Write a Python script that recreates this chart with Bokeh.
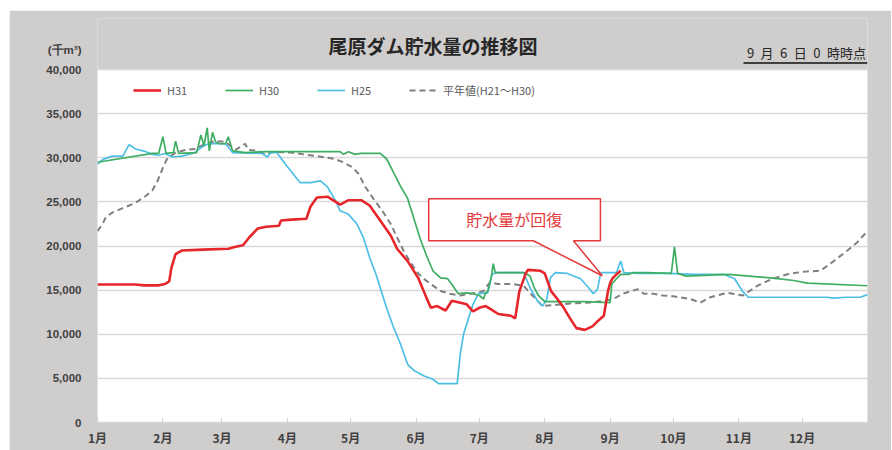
from bokeh.plotting import figure
from bokeh.models import (Range1d, FixedTicker, NumeralTickFormatter, Legend, LegendItem,
                          Label, PolyAnnotation, BoxAnnotation, Spacer)
from bokeh.layouts import column, row
from bokeh.embed import file_html
from bokeh.resources import INLINE

# ---- data (x = day of year, 0 = Jan 1; y = storage in 1000 m3) ----
month_starts = [0, 31, 59, 90, 120, 151, 181, 212, 243, 273, 304, 334]
month_labels = ["1月", "2月", "3月", "4月", "5月", "6月", "7月", "8月", "9月", "10月", "11月", "12月"]
y_ticks = [0, 5000, 10000, 15000, 20000, 25000, 30000, 35000, 40000]
unit_label = "(千m³)"

h31_day = [0, 18, 22, 29, 32, 34, 35, 37, 40, 50, 62, 65, 69, 72, 76, 80, 86, 87, 92, 99,
           101, 104, 109, 115, 119, 125, 129, 134, 139, 142, 147, 152, 156, 158, 161, 165,
           168, 170, 175, 178, 181, 184, 186, 190, 196, 198, 200, 203, 204, 210, 212, 215,
           218, 221, 224, 227, 231, 234.6, 237.6, 240, 242, 243, 244, 246, 248]
h31_val = [15650, 15650, 15550, 15550, 15700, 16000, 17500, 19100, 19500, 19600, 19700, 19900,
           20100, 21000, 22000, 22200, 22300, 22900, 23000, 23100, 24500, 25500, 25600, 24700,
           25200, 25200, 24600, 22900, 21200, 19700, 18300, 16400, 14100, 13000, 13200, 12700,
           13800, 13700, 13400, 12600, 13000, 13200, 12900, 12300, 12100, 11800, 14900, 16900,
           17300, 17200, 16900, 14900, 14000, 13000, 11800, 10700, 10500, 10900, 11600, 12100,
           14900, 15800, 16300, 16800, 17200]

h30_day = [0, 26, 29, 31, 32.5, 36, 37, 38.5, 47, 49, 50.5, 52, 53, 54.5, 56, 58, 60.7, 62, 64,
           70, 80, 100, 115, 116.6, 119, 122, 125, 134, 137, 140, 143.6, 147, 150, 153, 156, 159,
           162.6, 166, 169, 171, 175, 178, 181, 183, 184, 185, 186.6, 187.6, 188.5, 202, 205,
           207, 209, 212, 230, 243, 243.8, 246, 248, 252, 254, 260, 272, 273.5, 275, 279, 299,
           319, 330, 336.5, 365]
h30_val = [29500, 30500, 30500, 32400, 30500, 30600, 31900, 30500, 30600, 32600, 31400, 33400,
           30800, 32900, 31800, 31600, 31600, 32400, 30800, 30600, 30700, 30700, 30700, 30400,
           30700, 30400, 30500, 30500, 29900, 28500, 26800, 25400, 23100, 20800, 18900, 17200,
           16400, 16300, 15300, 14600, 14700, 14600, 14400, 14000, 14700, 14900, 16400, 18000,
           17000, 17000, 16600, 15300, 14400, 13700, 13700, 13600, 15700, 16300, 16800, 16800,
           17000, 17000, 16900, 19900, 16900, 16600, 16800, 16400, 16100, 15800, 15500]

h25_day = [0, 2.4, 7, 12, 15, 18, 23, 26, 29, 32, 35.5, 40, 45, 46, 50, 52.6, 60.7, 64, 78,
           80.6, 82, 85, 89, 94, 96, 101, 105.7, 109, 113, 115, 119, 123, 126, 129, 132, 134,
           137, 140, 143.6, 147, 150, 154.6, 159, 161.6, 170.5, 172, 173.5, 176, 178, 180.6,
           185, 187, 189.6, 202, 205, 208.5, 211, 213, 214.7, 217, 222.7, 229, 232.7, 235, 237,
           238.4, 239, 246, 248, 249.5, 256, 270, 283, 296.7, 302, 305.7, 308.5, 346, 348.5,
           355, 361.6, 365]
h25_val = [29300, 29800, 30200, 30200, 31500, 31000, 30700, 30400, 30300, 30500, 30100, 30200,
           30500, 30600, 31300, 31600, 31600, 30600, 30500, 30100, 30600, 30600, 29300, 27800,
           27200, 27200, 27400, 26700, 25100, 24000, 23600, 22500, 21000, 18700, 16800, 15300,
           13000, 11000, 8900, 6600, 5900, 5300, 4900, 4400, 4400, 7800, 10000, 11900, 13400,
           14600, 14700, 16800, 17000, 17000, 15300, 13800, 13200, 14000, 16400, 17000, 16900,
           16300, 15300, 14600, 15100, 16800, 17000, 17000, 18300, 17000, 16900, 16900, 16800,
           16800, 16300, 14900, 14200, 14200, 14100, 14200, 14200, 14500]

avg_day = [0, 2.4, 4, 7, 12, 18, 23, 26, 28.5, 31, 33, 37, 41.7, 46.4, 51, 56, 60.7, 65.4, 70,
           71.5, 76, 79.6, 84, 91.5, 104, 112, 116.6, 121, 123.7, 127, 131, 135, 139, 142, 145,
           148, 151.6, 154.6, 158, 162.6, 167, 172, 176.8, 180, 183, 186, 189.6, 197, 202, 205,
           208.5, 211, 216, 224, 233.6, 240, 244.5, 249, 256, 259, 263.5, 268, 273, 281, 285.8,
           290.5, 298.6, 306, 312.8, 320, 327, 334.6, 342.7, 349, 355.5, 360, 365]
avg_val = [21700, 22500, 23300, 23800, 24300, 24900, 25700, 26300, 27400, 28900, 29900, 30600,
           30900, 31000, 31600, 31900, 31800, 30900, 31600, 30900, 30800, 30400, 30700, 30600,
           30200, 29900, 29500, 28900, 28200, 26700, 25300, 24000, 22500, 21000, 19500, 18300,
           17000, 16300, 15700, 14900, 14600, 14400, 14600, 14700, 14900, 15900, 15700, 15700,
           15500, 14700, 13800, 13200, 13300, 13500, 13600, 13800, 14000, 14600, 15100, 14600,
           14600, 14400, 14300, 14000, 13600, 14200, 14700, 14400, 15500, 16300, 16800, 17100,
           17200, 18300, 19500, 20400, 21700]

series_names = ["H31", "H30", "H25", "平年値(H21～H30)"]

BG = "#d0cdcd"
JP = "Noto Sans CJK JP"
Y_TOP = 45800     # frame extends above 40,000 to hold the title band
UNIT_Y = 42200

p = figure(width=882, height=440, output_backend="svg", toolbar_location=None,
           x_range=Range1d(0, 365), y_range=Range1d(0, Y_TOP),
           min_border_left=88, min_border_right=24, min_border_top=8, min_border_bottom=28,
           background_fill_color=BG, border_fill_color=BG, outline_line_color=None)

# white plotting area
p.add_layout(BoxAnnotation(left=0, right=365, bottom=0, top=40000, fill_color="white",
                           fill_alpha=1, line_color=None, level="image"))

# axes
p.yaxis.ticker = FixedTicker(ticks=y_ticks + [UNIT_Y])
p.yaxis.formatter = NumeralTickFormatter(format="0,0")
p.yaxis.major_label_overrides = {UNIT_Y: unit_label}
p.yaxis.axis_line_color = None
p.yaxis.major_tick_line_color = None
p.yaxis.minor_tick_line_color = None
p.yaxis.major_label_standoff = 10
p.yaxis.major_label_text_font = "Liberation Sans"
p.yaxis.major_label_text_font_style = "bold"
p.yaxis.major_label_text_font_size = "11.5px"
p.yaxis.major_label_text_color = "#404040"

p.xaxis.ticker = FixedTicker(ticks=month_starts)
p.xaxis.major_label_overrides = {d: l for d, l in zip(month_starts, month_labels)}
p.xaxis.axis_line_color = "#d6d6d6"
p.xaxis.axis_line_width = 1.5
p.xaxis.major_tick_in = 5
p.xaxis.major_tick_out = 0
p.xaxis.major_tick_line_color = "#d6d6d6"
p.xaxis.minor_tick_line_color = None
p.xaxis.major_label_standoff = 6
p.xaxis.major_label_text_font = JP
p.xaxis.major_label_text_font_style = "bold"
p.xaxis.major_label_text_font_size = "12px"
p.xaxis.major_label_text_color = "#404040"

p.xgrid.visible = False
p.ygrid.ticker = FixedTicker(ticks=y_ticks)
p.ygrid.grid_line_color = "#d9d9d9"
p.ygrid.grid_line_width = 1.5

# series
r_avg = p.line(avg_day, avg_val, line_color="#7f7f7f", line_width=2, line_dash="6 4")
r_h25 = p.line(h25_day, h25_val, line_color="#4dbfe6", line_width=1.7)
r_h30 = p.line(h30_day, h30_val, line_color="#3fae62", line_width=1.7)
r_h31 = p.line(h31_day, h31_val, line_color="#e5262b", line_width=2.6)

legend = Legend(items=[LegendItem(label=series_names[0], renderers=[r_h31]),
                       LegendItem(label=series_names[1], renderers=[r_h30]),
                       LegendItem(label=series_names[2], renderers=[r_h25]),
                       LegendItem(label=series_names[3], renderers=[r_avg])],
                orientation="horizontal", location=(36, 324),
                border_line_color=None, background_fill_alpha=0,
                glyph_width=28, glyph_height=16, label_standoff=6, label_width=52,
                spacing=6, padding=0, margin=0,
                label_text_font=JP, label_text_font_size="11px", label_text_color="#595959")
p.add_layout(legend)

# callout
p.add_layout(PolyAnnotation(xs=[157, 238.4, 238.4, 225.6, 239.3, 206.6, 157],
                            ys=[25370, 25370, 20600, 20600, 16640, 20600, 20600],
                            fill_color="white", fill_alpha=1,
                            line_color="#e5393b", line_alpha=1, line_width=1.5))
p.add_layout(Label(x=197.6, y=23050, text="貯水量が回復", text_align="center",
                   text_baseline="middle", text_font=JP, text_font_size="16px",
                   text_color="#e5393b"))

# title band
p.add_layout(Label(x=159.0, y=42750, text="尾原ダム貯水量の推移図", text_align="center",
                   text_baseline="middle", text_font=JP, text_font_style="bold",
                   text_font_size="19px", text_color="#262626"))
p.add_layout(Label(x=364.3, y=41960, text="9\u2002月\u20026\u2002日\u20020\u2002時時点",
                   text_align="right", text_baseline="middle", text_font=JP,
                   text_font_size="13px", text_color="#262626"))
p.add_layout(BoxAnnotation(left=306.2, right=365, bottom=40660, top=40830,
                           fill_color="#111111", fill_alpha=1, line_color=None))

layout = column(Spacer(height=10, width=891), row(Spacer(width=9, height=440), p))

open("out.html", "w").write(file_html(layout, INLINE))
